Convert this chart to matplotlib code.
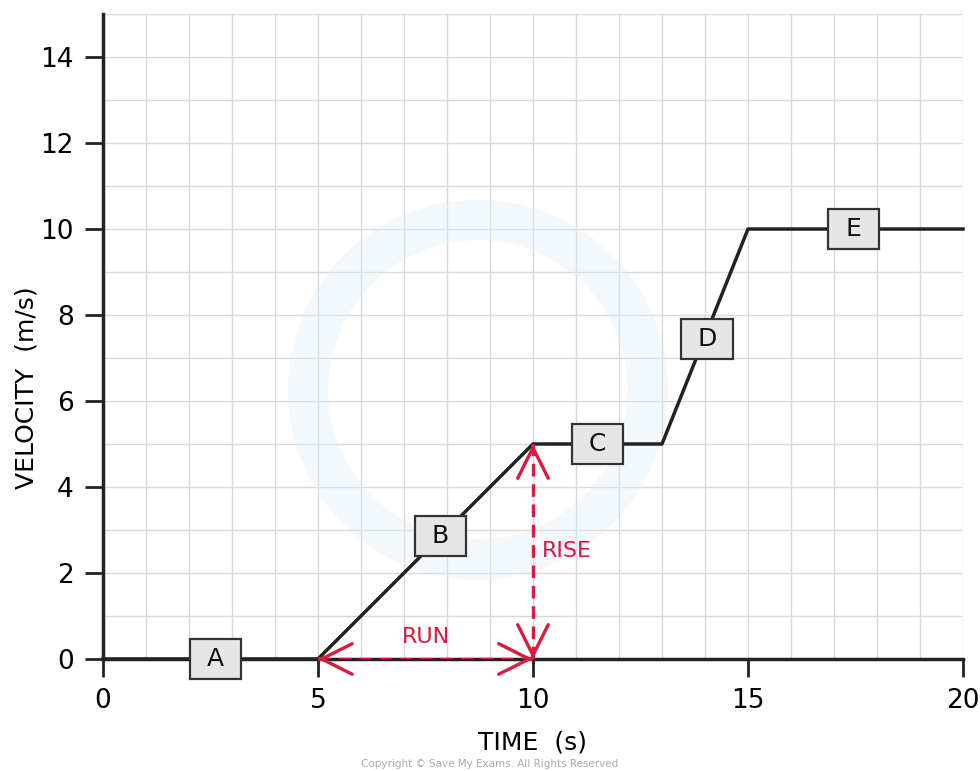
import numpy as np
import matplotlib
matplotlib.use("Agg")
import matplotlib.pyplot as plt
from matplotlib.patches import Circle, Rectangle

# velocity-time data
time_s = [0, 5, 10, 13, 15, 20]
velocity = [0, 0, 5, 5, 10, 10]

# section labels and where they sit on the line
seg_names = ["A", "B", "C", "D", "E"]
seg_x = [2.62, 7.85, 11.5, 14.05, 17.45]
seg_y = [0, 2.85, 5, 7.45, 10]

x_ticks = [0, 5, 10, 15, 20]
y_ticks = [0, 2, 4, 6, 8, 10, 12, 14]

red = "#d81b3f"
ink = "#222222"

fig = plt.figure(figsize=(9.8, 7.71), dpi=100)
ax = fig.add_axes([0.105, 0.1453, 0.8777, 0.8365])

ax.set_xlim(0, 20)
ax.set_ylim(0, 15)
ax.set_xticks(np.arange(0, 21, 1), minor=True)
ax.set_yticks(np.arange(0, 16, 1), minor=True)
ax.set_xticks(x_ticks)
ax.set_yticks(y_ticks)
ax.grid(which="both", color="#d9d9d9", lw=1.0, zorder=0)
ax.tick_params(which="minor", length=0)
ax.tick_params(which="major", length=13, width=2, direction="out",
               labelsize=19, color=ink, pad=8)
for s in ["top", "right"]:
    ax.spines[s].set_visible(False)
for s in ["left", "bottom"]:
    ax.spines[s].set_linewidth(2.5)
    ax.spines[s].set_color(ink)
ax.set_axisbelow(True)

# faint watermark ring
ax.add_patch(Circle((8.72, 6.26), 3.95, fill=False, lw=29, color="#dcedf8",
                    alpha=0.35, zorder=1, clip_on=False))

ax.plot(time_s, velocity, color=ink, lw=2.5, zorder=3, clip_on=False)

bw, bh = 1.2, 0.93
for name, x, y in zip(seg_names, seg_x, seg_y):
    ax.add_patch(Rectangle((x - bw / 2, y - bh / 2), bw, bh, fc="#e6e6e6",
                           ec="#333333", lw=1.6, zorder=5, clip_on=False))
    ax.text(x, y, name, ha="center", va="center", fontsize=18, color="#111111",
            zorder=6)

# run and rise: dashed shafts, solid open heads
dash = (0, (3.8, 2.3))
ax.plot([5, 10], [0, 0], color=red, lw=2.4, ls=dash, zorder=4)
ax.plot([10, 10], [0, 5], color=red, lw=2.4, ls=dash, zorder=4)
head = dict(arrowstyle="->,head_length=1.1,head_width=0.55", color=red,
            lw=2.4, shrinkA=0, shrinkB=0, mutation_scale=20)
for tip, back in [((5, 0), (5.05, 0)), ((10, 0), (9.95, 0)),
                  ((10, 0), (10, 0.05)), ((10, 5), (10, 4.95))]:
    ax.annotate("", xy=tip, xytext=back, arrowprops=head, zorder=4)
ax.text(7.5, 0.5, "RUN", color=red, fontsize=16, ha="center", va="center")
ax.text(10.2, 2.5, "RISE", color=red, fontsize=16, ha="left", va="center")

ax.set_xlabel("TIME  (s)", fontsize=18, labelpad=12)
ax.set_ylabel("VELOCITY  (m/s)", fontsize=18)
ax.yaxis.set_label_coords(-0.075, 0.42)

fig.text(0.5, 0.002, "Copyright \u00a9 Save My Exams. All Rights Reserved",
         ha="center", va="bottom", fontsize=7.5, color="#aaaaaa")

fig.savefig("out.png", dpi=100)
